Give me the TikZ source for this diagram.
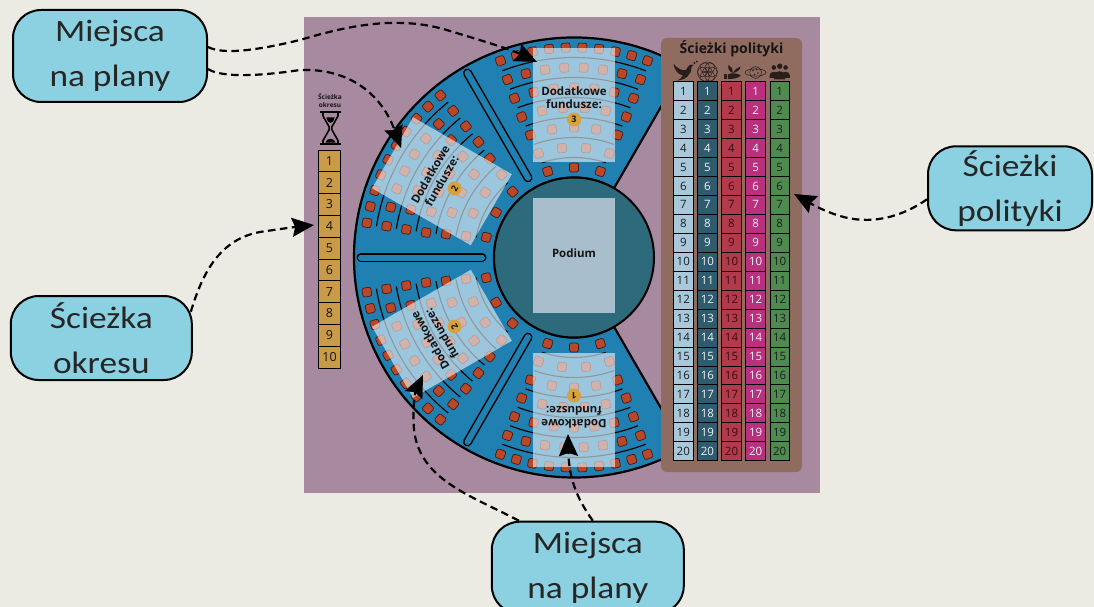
\documentclass[tikz,border=0pt]{standalone}
\usepackage{fontspec}
\setmainfont{Open Sans}
\newfontfamily\calloutfont[FakeStretch=1.14]{Carlito}
\usetikzlibrary{arrows.meta}

\definecolor{pagebg}{HTML}{EBEBE4}
\definecolor{boardbg}{HTML}{A88AA0}
\definecolor{arenablue}{HTML}{1F80B1}
\definecolor{podiumteal}{HTML}{2C6A7C}
\definecolor{podiumrect}{HTML}{A8BECC}
\definecolor{seatred}{HTML}{B9472A}
\definecolor{seatedge}{HTML}{4A1A10}
\definecolor{cardtint}{HTML}{E4EFF6}
\definecolor{discgold}{HTML}{D7A23D}
\definecolor{trackgold}{HTML}{C99A47}
\definecolor{panelbrown}{HTML}{8F6B60}
\definecolor{callfill}{HTML}{8BD1E1}
\definecolor{calltext}{HTML}{262626}
\definecolor{inkdark}{HTML}{151515}
\definecolor{iconink}{HTML}{2A1E1C}
\definecolor{pol1}{HTML}{A9C9DB}
\definecolor{pol2}{HTML}{2F5B6F}
\definecolor{pol3}{HTML}{B23A4B}
\definecolor{pol4}{HTML}{B9317E}
\definecolor{pol5}{HTML}{4F8B4F}
\definecolor{poltxtdark}{HTML}{1A1F24}
\definecolor{poltxtlight}{HTML}{EEF2F4}
\definecolor{poltxtred}{HTML}{3A0C14}

\tikzset{
  seat/.style={draw=seatedge, fill=seatred, line width=0.7pt, minimum size=9pt,
    inner sep=0pt, rounded corners=2pt},
  rowline/.style={draw=black, line width=1.15pt},
  card/.style={fill=cardtint, fill opacity=0.64},
  cardtext/.style={font=\bfseries\fontsize{11.5}{13.3}\selectfont, align=center,
    inner sep=0pt, text=inkdark},
  numdisc/.style={circle, fill=discgold, minimum size=14pt, inner sep=0pt,
    font=\bfseries\fontsize{9}{9}\selectfont, text=inkdark},
  divider/.style={line width=9pt, line cap=round, draw=black},
  dividerfill/.style={line width=6pt, line cap=round, draw=arenablue},
  trackbox/.style={draw=black, line width=1pt, fill=trackgold, minimum width=22.4pt,
    minimum height=21.8pt, inner sep=0pt, text=inkdark,
    font=\fontsize{12.5}{13}\selectfont},
  cell/.style={draw=black, line width=0.9pt, minimum width=19.5pt,
    minimum height=18.95pt, inner sep=0pt, font=\fontsize{11.5}{12}\selectfont},
  callout/.style={draw=black, line width=2pt, fill=callfill, rounded corners=28pt,
    text=calltext, font=\calloutfont\fontsize{31}{45}\selectfont, align=center,
    inner sep=0pt},
  link/.style={draw=black, line width=2.2pt, dash pattern=on 7.5pt off 4.5pt,
    -{Stealth[length=22pt, width=19pt, inset=3pt]}},
}

\begin{document}
\begin{tikzpicture}[x=1pt, y=-1pt]
\useasboundingbox (0,0) rectangle (1094,607);
\fill[pagebg] (0,0) rectangle (1094,607);

% board
\fill[boardbg] (304,17) rectangle (820,493);

% chamber, centred on the podium
\begin{scope}[shift={(574,257.5)}, y=1pt]
  \fill[arenablue, draw=black, line width=2.2pt]
    (60:220) arc[start angle=60, end angle=300, radius=220]
    -- (300:80) arc[start angle=300, end angle=60, radius=80] -- cycle;

  % four identical seating blocks
  \foreach \ang/\num in {90/3, 150/2, 210/2, 270/1}{
    \begin{scope}[rotate=\ang-90]
      \foreach \rad/\cnt/\half in {90/3/17, 110/4/18.8, 130/5/19.6, 150/6/20.4,
                                    170/7/20.5, 190/8/20.5, 210/10/20.5}{
        \pgfmathtruncatemacro\last{\cnt-1}
        \foreach \k in {0,...,\last}{
          \pgfmathsetmacro\a{90-\half+\k*2*\half/\last}
          \node[seat, rotate=\ang-90+\a] (seat-\ang-\rad-\k) at (\a:\rad) {};
        }
      }
      \foreach \rad/\half in {100/18.5, 120/19.5, 140/20.2, 160/20.6, 180/20.8, 200/21}{
        \draw[rowline] (90-\half:\rad) arc[start angle=90-\half, end angle=90+\half, radius=\rad];
      }
      % bonus-funds card
      \fill[card] (-41,95.5) rectangle (41,209.5);
      \node[cardtext, rotate=\ang-90] (cardtext-\ang) at (0,159.5) {Dodatkowe\\fundusze:};
      \node[numdisc, rotate=\ang-90] (disc-\ang) at (0,138) {\num};
    \end{scope}
  }

  % aisles between the blocks
  \foreach \d in {120,180,240}{
    \draw[divider] (\d:92) -- (\d:213);
    \draw[dividerfill] (\d:92) -- (\d:213);
  }

  % podium
  \draw[fill=podiumteal, line width=2pt] (0,0) circle (80);
  \fill[podiumrect] (-41,-55.5) rectangle (41,59.5);
  \node[font=\bfseries\fontsize{11.5}{12}\selectfont, text=inkdark] (podium) at (0,4.5) {Podium};
\end{scope}

% term track
\node[font=\bfseries\fontsize{6.5}{7.5}\selectfont, align=center, text=inkdark, inner sep=0pt]
  (termtitle) at (330,100.5) {Ścieżka\\okresu};
\draw[line width=2.4pt] (320,112) -- (341,112);
\draw[line width=2.4pt] (320,144) -- (341,144);
\draw[line width=1.6pt, line join=round]
  (323,113) -- (323,116) -- (329.2,127) -- (329.2,129.6) -- (323,140.6) -- (323,143);
\draw[line width=1.6pt, line join=round]
  (338,113) -- (338,116) -- (331.8,127) -- (331.8,129.6) -- (338,140.6) -- (338,143);
\fill (326.5,117.5) .. controls (327,121) and (329,123) .. (330.5,123)
  .. controls (332,123) and (334,121) .. (334.5,117.5) -- cycle;
\fill (325.5,142.5) .. controls (326.5,137.5) and (334.5,137.5) .. (335.5,142.5) -- cycle;
\foreach \i in {1,...,10}{
  \node[trackbox] (term-\i) at (329.5,{150+21.8*(\i-0.5)}) {\i};
}

% policy tracks panel
\fill[panelbrown, rounded corners=6pt] (661,38) rectangle (802,472);
\node[font=\bfseries\fontsize{14}{15}\selectfont, text=inkdark] (poltitle) at (731.5,48.5) {Ścieżki polityki};

% icons above the columns
\fill[iconink] (673.5,63.5) .. controls (678,69.5) and (682,70.5) .. (686,70)
  -- (688,66.5) .. controls (689.5,64.5) and (691.5,64) .. (693.5,65)
  -- (691.5,67.2) .. controls (691.3,74.5) and (686,80) .. (677,80.5)
  .. controls (680.5,78.8) and (682,77.5) .. (683,75.5)
  .. controls (678.5,74.5) and (674.5,71) .. (673.5,63.5) -- cycle;
\draw[iconink, line width=0.5pt] (694.5,63) circle (0.8) (696.8,61.5) circle (0.7);
\begin{scope}[iconink, line width=0.45pt]
  \draw (707.4,72) circle (10);
  \draw (707.4,72) circle (4.9);
  \foreach \q in {0,60,...,300}{
    \draw ([shift={(\q:4.9)}]707.4,72) circle (4.9);
  }
\end{scope}
\fill[iconink] (723.5,74) rectangle (727,79.5);
\fill[iconink] (727.8,74.5) .. controls (732,72.5) and (737,73) .. (741,75.5)
  .. controls (738,78.5) and (733,79) .. (727.8,79) -- cycle;
\fill[iconink] (732.5,73) .. controls (729,71.5) and (727.5,68) .. (728.5,65)
  .. controls (731.5,66) and (733,69) .. (732.5,73) -- cycle;
\fill[iconink] (733,73) .. controls (735,69.5) and (737.5,67) .. (740.5,66.5)
  .. controls (740.5,69.5) and (737.5,72) .. (733,73) -- cycle;
\begin{scope}[iconink, line width=0.55pt]
  \draw (755.6,72.5) circle (5.8);
  \draw (755.6,72.5) ellipse (10.5 and 3.6);
  \fill (753,70.5) circle (0.9) (756.5,69.5) circle (0.8) (758,73) circle (0.9)
        (754.5,74.5) circle (0.8);
\end{scope}
\fill[iconink] (773.8,67.5) circle (2.3) (785.6,67.5) circle (2.3) (779.7,66.2) circle (2.7);
\fill[iconink] (769.5,78) -- (769.5,75.5) .. controls (769.5,71.5) and (776,71) .. (776,73) -- (776,78) -- cycle;
\fill[iconink] (783.4,78) -- (783.4,73) .. controls (783.4,71) and (789.9,71.5) .. (789.9,75.5) -- (789.9,78) -- cycle;
\fill[iconink] (774.2,79.5) -- (774.2,75.5) .. controls (774.2,69.8) and (785.2,69.8) .. (785.2,75.5) -- (785.2,79.5) -- cycle;

% the five policy columns
\foreach \fillc/\textc [count=\ci from 0] in
    {pol1/poltxtdark, pol2/poltxtlight, pol3/poltxtred, pol4/poltxtlight, pol5/poltxtdark}{
  \foreach \i in {1,...,20}{
    \node[cell, fill=\fillc, text=\textc] (pol-\ci-\i) at ({683.3+24.1*\ci},{81.7+18.95*(\i-0.5)}) {\i};
  }
}

% callouts
\node[callout, minimum width=194pt, minimum height=92pt] (mpTop) at (110,56) {Miejsca\\na plany};
\node[callout, minimum width=181pt, minimum height=84pt] (okres) at (101.3,338) {Ścieżka\\okresu};
\node[callout, minimum width=192pt, minimum height=92pt] (mpBot) at (587.8,567.7) {Miejsca\\na plany};
\node[callout, minimum width=164pt, minimum height=84pt] (polit) at (1010,188.3) {Ścieżki\\polityki};

% targets on the board
\coordinate (tipTop) at (537,62);
\coordinate (tipUpper) at (401,148);
\coordinate (tipTerm) at (314,225);
\coordinate (tipLower) at (423,375);
\coordinate (tipBottom) at (568,434);
\coordinate (tipPolicy) at (794,194);

% connectors
\draw[link] ([yshift=9pt]mpTop.east) .. controls (222,54) and (250,52) .. (300,40)
  .. controls (350,25) and (400,15) .. (450,31)
  .. controls (490,43) and (512,50) .. (tipTop);
\draw[link] ([yshift=-13pt]mpTop.east) .. controls (222,78) and (260,76) .. (300,70)
  .. controls (350,68) and (382,95) .. (tipUpper);
\draw[link] ([xshift=-2pt]okres.16) .. controls (200,282) and (215,240) .. (260,232)
  .. controls (280,229) and (295,227) .. (tipTerm);
\draw[link] ([xshift=-69pt]mpBot.north) .. controls (470,495) and (420,480) .. (414,430)
  .. controls (412,405) and (416,390) .. (tipLower);
\draw[link] ([xshift=5pt]mpBot.north) .. controls (578,500) and (569,480) .. (tipBottom);
\draw[link] ([yshift=-11pt]polit.west) .. controls (900,218) and (870,225) .. (840,216)
  .. controls (820,210) and (805,200) .. (tipPolicy);
\end{tikzpicture}
\end{document}
